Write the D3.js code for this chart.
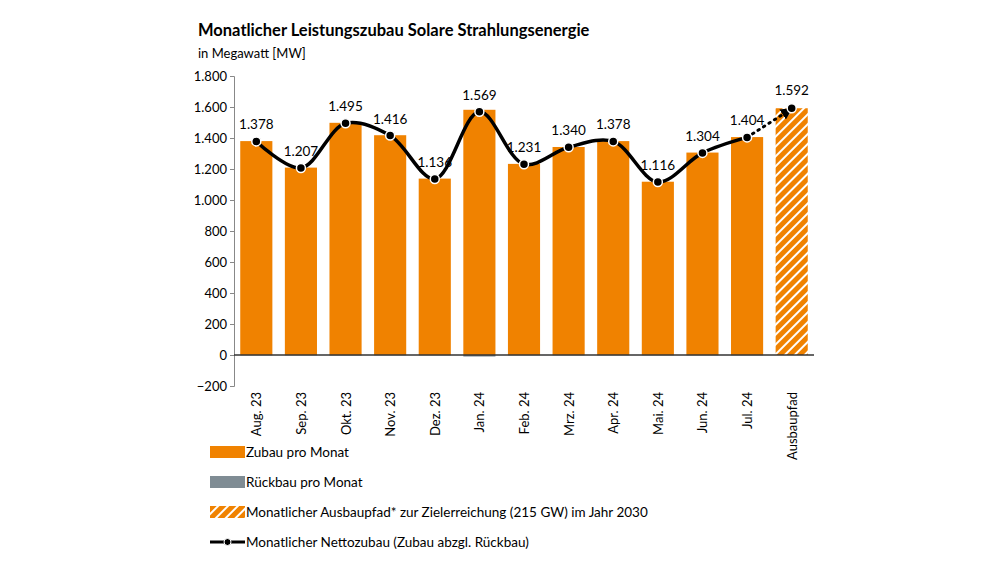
<!DOCTYPE html><html><head><meta charset="utf-8"><script src="https://cdn.jsdelivr.net/npm/d3@7"></script>
<style>body{margin:0;background:#fff}text{font-family:Lato,"Open Sans",sans-serif}</style></head><body>
<svg id="c" width="1000" height="563"></svg>
<script>
const categories=["Aug. 23","Sep. 23","Okt. 23","Nov. 23","Dez. 23","Jan. 24","Feb. 24","Mrz. 24","Apr. 24","Mai. 24","Jun. 24","Jul. 24","Ausbaupfad"];
const zubau=[1380,1209,1498,1418,1138,1582,1233,1342,1380,1118,1306,1406,null];
const rueckbau=[-2,-2,-3,-2,-2,-10,-2,-2,-2,-2,-2,-2,null];
const netto=[1378,1207,1495,1416,1136,1569,1231,1340,1378,1116,1304,1404,1592];
const ausbaupfad=[null,null,null,null,null,null,null,null,null,null,null,null,1592];
const yTicks=[-200,0,200,400,600,800,1000,1200,1400,1600,1800];
const legend=["Zubau pro Monat","Rückbau pro Monat","Monatlicher Ausbaupfad* zur Zielerreichung (215 GW) im Jahr 2030","Monatlicher Nettozubau (Zubau abzgl. Rückbau)"];
const fmt=v=>d3.format(",")(v).replace(/,/g,".");
const orange="#F08200";
const svg=d3.select("#c");
const defs=svg.append("defs");
const p=defs.append("pattern").attr("id","hatch").attr("patternUnits","userSpaceOnUse").attr("width",7).attr("height",7).attr("patternTransform","rotate(45)");
p.append("rect").attr("width",7).attr("height",7).attr("fill",orange);
p.append("rect").attr("width",2).attr("height",7).attr("fill","#fff");
defs.append("marker").attr("id","arr").attr("viewBox","0 0 10 10").attr("refX",5).attr("refY",5).attr("markerWidth",4).attr("markerHeight",4).attr("orient","auto")
 .append("path").attr("d","M0,0L10,5L0,10z").attr("fill","#000");
const x=d3.scaleBand().domain(categories).range([234,814]).paddingInner(0.28).paddingOuter(0.14);
const y=d3.scaleLinear().domain([-200,1800]).range([386,76]);
svg.append("text").attr("x",198).attr("y",36).attr("font-size",16.5).attr("font-weight","bold").text("Monatlicher Leistungszubau Solare Strahlungsenergie");
svg.append("text").attr("x",198).attr("y",58).attr("font-size",13).text("in Megawatt [MW]");
const ya=svg.append("g").attr("transform","translate(234,0)").call(d3.axisLeft(y).tickValues(yTicks).tickSize(4).tickFormat(fmt));
ya.select(".domain").attr("stroke","#888");ya.selectAll(".tick line").attr("stroke","#888");
ya.selectAll("text").attr("font-size",13).attr("fill","#000").style("font-family","Lato");
svg.selectAll(".z").data(categories).enter().filter((d,i)=>zubau[i]!=null).append("rect")
 .attr("x",d=>x(d)).attr("width",x.bandwidth()).attr("y",d=>y(zubau[categories.indexOf(d)])).attr("height",d=>y(0)-y(zubau[categories.indexOf(d)])).attr("fill",orange);
svg.selectAll(".r").data(categories).enter().filter((d,i)=>rueckbau[i]!=null).append("rect")
 .attr("x",d=>x(d)).attr("width",x.bandwidth()).attr("y",y(0)).attr("height",d=>y(rueckbau[categories.indexOf(d)])-y(0)).attr("fill","#7F8C94");
svg.append("rect").attr("x",x("Ausbaupfad")).attr("width",x.bandwidth()).attr("y",y(ausbaupfad[12])).attr("height",y(0)-y(ausbaupfad[12])).attr("fill","url(#hatch)");
svg.append("line").attr("x1",234).attr("x2",814).attr("y1",y(0)).attr("y2",y(0)).attr("stroke","#333").attr("stroke-width",1.5);
const cx=d=>x(d)+x.bandwidth()/2;
const pts=categories.map((d,i)=>[cx(d),y(netto[i])]);
svg.append("path").attr("d",d3.line().curve(d3.curveCatmullRom.alpha(0.5))(pts.slice(0,12))).attr("fill","none").attr("stroke","#000").attr("stroke-width",3.5);
const a=pts[11],b=pts[12];
svg.append("line").attr("x1",a[0]).attr("y1",a[1]).attr("x2",b[0]-4).attr("y2",b[1]+3).attr("stroke","#000").attr("stroke-width",3).attr("stroke-dasharray","1.5,5").attr("stroke-linecap","round").attr("marker-end","url(#arr)");
svg.selectAll(".pt").data(pts).enter().append("circle").attr("cx",d=>d[0]).attr("cy",d=>d[1]).attr("r",4.5).attr("fill","#000").attr("stroke","#fff").attr("stroke-width",1.5);
svg.selectAll(".lb").data(pts).enter().append("text").attr("x",d=>d[0]).attr("y",(d,i)=>i==12?d[1]-13:d[1]-12).attr("text-anchor","middle").attr("font-size",13.5).text((d,i)=>fmt(netto[i]));
svg.selectAll(".xl").data(categories).enter().append("text").attr("transform",d=>`translate(${cx(d)+5},${y(-200)+6}) rotate(-90)`).attr("text-anchor","end").attr("font-size",13).text(d=>d);
const lg=svg.append("g");
const ly=[452,482,512,542];
lg.append("rect").attr("x",210).attr("y",ly[0]-6).attr("width",35).attr("height",12).attr("fill",orange);
lg.append("rect").attr("x",210).attr("y",ly[1]-6).attr("width",35).attr("height",12).attr("fill","#7F8C94");
lg.append("rect").attr("x",210).attr("y",ly[2]-6).attr("width",35).attr("height",12).attr("fill","url(#hatch)");
lg.append("line").attr("x1",210).attr("x2",245).attr("y1",ly[3]).attr("y2",ly[3]).attr("stroke","#000").attr("stroke-width",3);
lg.append("circle").attr("cx",227.5).attr("cy",ly[3]).attr("r",3.5).attr("fill","#000").attr("stroke","#fff");
legend.forEach((t,i)=>lg.append("text").attr("x",246).attr("y",ly[i]+5).attr("font-size",13.5).text(t));
</script></body></html>
